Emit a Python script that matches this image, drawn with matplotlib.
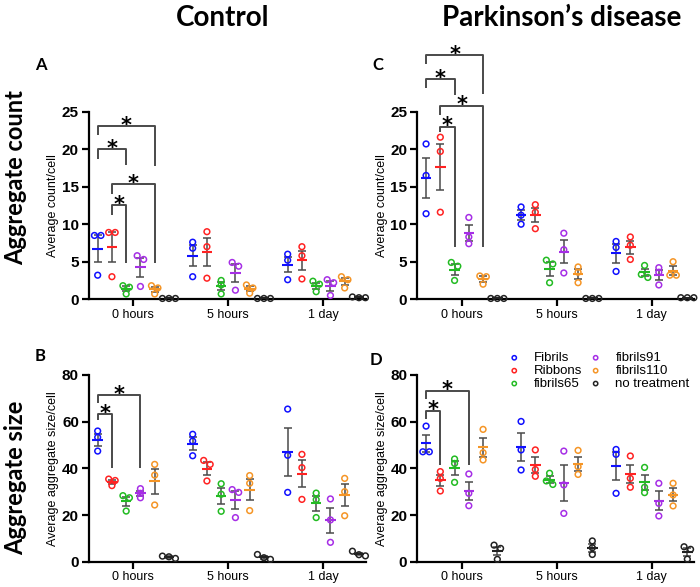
import matplotlib
matplotlib.use('Agg')
import matplotlib.pyplot as plt
import numpy as np

# ---------------- data ----------------
groups = ['0 hours', '5 hours', '1 day']
series = ['Fibrils', 'Ribbons', 'fibrils65', 'fibrils91', 'fibrils110', 'no treatment']
colors = ['#1010ff', '#ff2222', '#22bb22', '#a62ee6', '#f59526', '#222222']

# Panel A: Control, aggregate count/cell  (per group: 3 replicates)
ctrl_count_fibrils = [[8.5, 8.5, 3.2], [7.6, 6.8, 3.0], [6.0, 5.2, 2.6]]
ctrl_count_ribbons = [[8.9, 8.9, 3.0], [9.0, 7.0, 2.8], [7.0, 5.8, 2.7]]
ctrl_count_f65 = [[1.8, 1.6, 0.7], [2.5, 1.9, 0.7], [2.4, 2.0, 1.0]]
ctrl_count_f91 = [[5.8, 5.3, 1.7], [4.9, 4.4, 1.2], [2.6, 2.2, 0.5]]
ctrl_count_f110 = [[1.8, 1.5, 0.7], [1.9, 1.5, 0.8], [3.0, 2.6, 1.5]]
ctrl_count_none = [[0.1, 0.1, 0.1], [0.1, 0.1, 0.1], [0.3, 0.2, 0.2]]

# Panel B: Control, aggregate size/cell
ctrl_size_fibrils = [[56.0, 53.3, 47.4], [54.6, 51.7, 45.4], [65.4, 45.6, 29.7]]
ctrl_size_ribbons = [[35.4, 34.8, 32.6], [43.4, 41.7, 34.6], [46.0, 40.3, 26.7]]
ctrl_size_f65 = [[28.3, 27.4, 21.7], [33.4, 28.9, 21.6], [29.4, 26.6, 18.9]]
ctrl_size_f91 = [[31.3, 29.3, 27.4], [30.9, 29.7, 18.9], [26.9, 17.9, 8.3]]
ctrl_size_f110 = [[41.7, 37.1, 24.3], [36.9, 33.6, 21.9], [35.7, 30.0, 19.7]]
ctrl_size_none = [[1.4, 2.4, 2.1], [3.1, 1.7, 1.0], [2.5, 4.5, 3.0]]

# Panel C: Parkinson's disease, aggregate count/cell
pd_count_fibrils = [[20.7, 16.5, 11.4], [12.3, 11.2, 10.0], [7.7, 6.9, 3.7]]
pd_count_ribbons = [[21.6, 19.7, 11.6], [12.6, 11.6, 9.4], [8.3, 7.2, 5.3]]
pd_count_f65 = [[4.9, 4.4, 2.5], [5.2, 4.7, 2.2], [4.5, 3.3, 2.9]]
pd_count_f91 = [[10.9, 8.3, 7.4], [8.8, 6.6, 3.5], [4.2, 3.6, 1.9]]
pd_count_f110 = [[3.1, 3.0, 2.0], [4.3, 3.6, 2.2], [5.0, 3.2, 3.2]]
pd_count_none = [[0.1, 0.1, 0.1], [0.1, 0.1, 0.1], [0.2, 0.2, 0.2]]

# Panel D: Parkinson's disease, aggregate size/cell
pd_size_fibrils = [[58.1, 47.1, 47.1], [60.1, 47.9, 39.3], [48.1, 46.0, 29.3]]
pd_size_ribbons = [[38.6, 35.7, 30.3], [47.9, 39.5, 36.6], [45.3, 35.7, 31.9]]
pd_size_f65 = [[44.0, 42.1, 34.0], [37.9, 34.6, 33.1], [40.4, 31.9, 29.6]]
pd_size_f91 = [[37.6, 29.3, 24.0], [47.4, 32.9, 20.7], [33.6, 25.0, 19.6]]
pd_size_f110 = [[56.7, 46.7, 43.6], [47.7, 40.7, 37.4], [33.6, 28.6, 23.9]]
pd_size_none = [[7.1, 5.7, 1.0], [8.9, 6.0, 3.1], [6.4, 5.3, 1.1]]

# significance brackets: (series a, series b, bar height, left leg end, right leg end)
brackets_A = [(0, 4, 23.1, 21.9, 17.8), (0, 2, 20.0, 18.7, 17.9),
              (1, 4, 15.3, 14.0, 4.8), (1, 2, 12.5, 11.2, 4.8)]
brackets_B = [(0, 3, 71.4, 67.9, 40.0), (0, 1, 63.1, 60.7, 40.0)]
brackets_C = [(0, 4, 32.5, 31.4, 27.3), (0, 2, 29.3, 28.1, 27.2),
              (1, 4, 25.8, 24.6, 7.0), (1, 2, 23.0, 22.3, 7.0)]
brackets_D = [(0, 3, 73.3, 69.6, 41.4), (0, 1, 64.7, 61.0, 41.4)]

# ---------------- layout ----------------
W, H = 700, 587
fig = plt.figure(figsize=(7.0, 5.87), dpi=100)
TICKFONT = 'Liberation Sans'
HEADFONT = 'Lato'

XMIN, XMAX = -0.47, 2.45
offsets = np.array([-2.5, -1.5, -0.5, 0.5, 1.5, 2.5]) * 0.15
PX_PER_X = 95.0


def axes_at(left_px, top_px, bottom_px, right_px):
    return fig.add_axes([left_px / W, 1 - bottom_px / H,
                         (right_px - left_px) / W, (bottom_px - top_px) / H])


def swarm(vals, px_per_y, diam_px=6.5, thr_px=4.3):
    vals = np.asarray(vals, float)
    order = np.argsort(-vals)
    xo = np.zeros(len(vals))
    clusters = [[order[0]]]
    for idx in order[1:]:
        if (vals[clusters[-1][-1]] - vals[idx]) * px_per_y < thr_px:
            clusters[-1].append(idx)
        else:
            clusters.append([idx])
    for c in clusters:
        n = len(c)
        for k, idx in enumerate(c):
            xo[idx] = (k - (n - 1) / 2) * diam_px / PX_PER_X
    return xo


def draw_panel(ax, data, ymax, yticks, ylabel, brackets, axh_px):
    px_per_y = axh_px / ymax
    for si, (sdata, col) in enumerate(zip(data, colors)):
        for gi, vals in enumerate(sdata):
            xc = gi + offsets[si]
            v = np.array(vals)
            m = v.mean()
            sem = v.std(ddof=1) / np.sqrt(len(v))
            ax.errorbar([xc], [m], yerr=[sem], fmt='none', ecolor='#4a4a4a',
                        elinewidth=1.1, capsize=2.8, capthick=1.1, zorder=2,
                        clip_on=False)
            ax.hlines(m, xc - 0.055, xc + 0.055, color=col, lw=1.5, zorder=3,
                      clip_on=False)
            xs = xc + swarm(v, px_per_y)
            ax.scatter(xs, v, s=17, facecolors='none', edgecolors=col,
                       linewidths=1.1, zorder=4, clip_on=False,
                       label=series[si] if gi == 0 else None)
    ax.set_xlim(XMIN, XMAX)
    ax.set_ylim(0, ymax)
    ax.set_yticks(yticks)
    ax.set_xticks(range(len(groups)))
    ax.set_xticklabels(groups, fontsize=9, family=TICKFONT)
    for lab in ax.get_yticklabels():
        lab.set_fontweight('bold')
        lab.set_fontsize(11)
        lab.set_family(TICKFONT)
    ax.set_ylabel(ylabel, fontsize=9, family=TICKFONT, labelpad=2)
    for s in ['top', 'right']:
        ax.spines[s].set_visible(False)
    for s in ['left', 'bottom']:
        ax.spines[s].set_linewidth(1.6)
    ax.tick_params(width=1.6, length=5, pad=2)
    for a, b, yt, yl, yr in brackets:
        xa, xb = offsets[a], offsets[b]
        ax.plot([xa, xa, xb, xb], [yl, yt, yt, yr], color='#4a4a4a', lw=1.4,
                clip_on=False, zorder=5, solid_capstyle='butt')
        ax.annotate('*', xy=((xa + xb) / 2, yt), xytext=(0, -7),
                    textcoords='offset points', ha='center', va='bottom',
                    fontsize=15, fontweight='bold', family='DejaVu Sans',
                    annotation_clip=False)


A_TOP, A_BOT = 111.7, 299.2
B_TOP, B_BOT = 375.0, 561.7
LX = 133.3 + XMIN * PX_PER_X
RX = 133.3 + XMAX * PX_PER_X
LX2 = 461.7 + XMIN * PX_PER_X
RX2 = 461.7 + XMAX * PX_PER_X

axA = axes_at(LX, A_TOP, A_BOT, RX)
axB = axes_at(LX, B_TOP, B_BOT, RX)
axC = axes_at(LX2, A_TOP, A_BOT, RX2)
axD = axes_at(LX2, B_TOP, B_BOT, RX2)

dataA = [ctrl_count_fibrils, ctrl_count_ribbons, ctrl_count_f65, ctrl_count_f91,
         ctrl_count_f110, ctrl_count_none]
dataB = [ctrl_size_fibrils, ctrl_size_ribbons, ctrl_size_f65, ctrl_size_f91,
         ctrl_size_f110, ctrl_size_none]
dataC = [pd_count_fibrils, pd_count_ribbons, pd_count_f65, pd_count_f91,
         pd_count_f110, pd_count_none]
dataD = [pd_size_fibrils, pd_size_ribbons, pd_size_f65, pd_size_f91,
         pd_size_f110, pd_size_none]

draw_panel(axA, dataA, 25, [0, 5, 10, 15, 20, 25], 'Average count/cell', brackets_A, A_BOT - A_TOP)
draw_panel(axB, dataB, 80, [0, 20, 40, 60, 80], 'Average aggregate size/cell', brackets_B, B_BOT - B_TOP)
draw_panel(axC, dataC, 25, [0, 5, 10, 15, 20, 25], 'Average count/cell', brackets_C, A_BOT - A_TOP)
draw_panel(axD, dataD, 80, [0, 20, 40, 60, 80], 'Average aggregate size/cell', brackets_D, B_BOT - B_TOP)

leg = axD.legend(loc='upper left', bbox_to_anchor=(509 / W, 1 - 352 / H),
                 bbox_transform=fig.transFigure, ncol=2, frameon=False,
                 prop={'family': TICKFONT, 'size': 9.5}, handlelength=0.8,
                 handletextpad=1.1, columnspacing=0.6, labelspacing=0.05,
                 borderpad=0, borderaxespad=0, markerscale=0.75)

# headings
fig.text(223 / W, 1 - 18 / H, 'Control', ha='center', va='center',
         fontsize=20, fontweight='bold', family=HEADFONT)
fig.text(562 / W, 1 - 18 / H, 'Parkinson\u2019s disease', ha='center', va='center',
         fontsize=20, fontweight='bold', family=HEADFONT)
for lbl, x, y in [('A', 41, 65), ('B', 40, 356), ('C', 378, 65), ('D', 376, 360)]:
    fig.text(x / W, 1 - y / H, lbl, ha='center', va='center', fontsize=12,
             fontweight='bold', family=HEADFONT)
fig.text(16 / W, 1 - 178 / H, 'Aggregate count', rotation=90, ha='center',
         va='center', fontsize=17, fontweight='bold', family=HEADFONT)
fig.text(16 / W, 1 - 478 / H, 'Aggregate size', rotation=90, ha='center',
         va='center', fontsize=17, fontweight='bold', family=HEADFONT)

fig.savefig('out.png', dpi=100)
